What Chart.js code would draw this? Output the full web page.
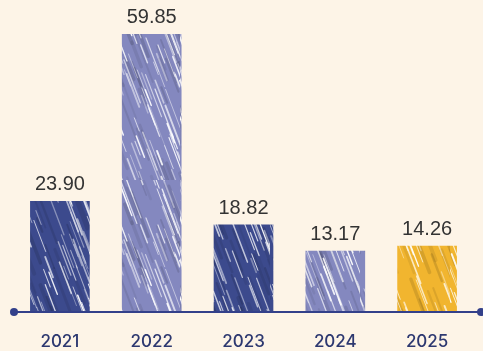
<!DOCTYPE html>
<html>
<head>
<meta charset="utf-8">
<script src="https://cdn.jsdelivr.net/npm/chart.js@4"></script>
<style>
  html, body { margin: 0; padding: 0; background: #fdf4e7; }
  #wrap { width: 483px; height: 351px; }
</style>
</head>
<body>
<div id="wrap"><canvas id="chart"></canvas></div>
<script>
const years = ["2021", "2022", "2023", "2024", "2025"];
const values = [23.90, 59.85, 18.82, 13.17, 14.26];
const barColors = ["#3c4a8d", "#8488bf", "#3c4a8d", "#8488bf", "#f1b52f"];

// tiny seeded generator so the pencil streaks look the same every load
function seeded(seed) {
    return function () {
        seed = (seed * 16807) % 2147483647;
        return (seed - 1) / 2147483646;
    };
}

function streaks(g, rnd, count, color, alphaMin, alphaSpan, widthMin, widthSpan) {
    g.strokeStyle = color;
    g.lineCap = "round";
    for (let i = 0; i < count; i++) {
        const x = rnd() * 140 - 40;
        const y = rnd() * 220 - 40;
        const len = 12 + rnd() * 38;
        g.globalAlpha = alphaMin + rnd() * alphaSpan;
        g.lineWidth = widthMin + rnd() * widthSpan;
        g.beginPath();
        g.moveTo(x, y);
        g.lineTo(x + len * 0.38, y + len);
        g.stroke();
    }
}

// crayon-like fill: flat colour, faint darker strokes, many white diagonal streaks
function crayonPattern(color, seed) {
    const c = document.createElement("canvas");
    c.width = 90;
    c.height = 180;
    const g = c.getContext("2d");
    const rnd = seeded(seed);
    g.fillStyle = color;
    g.fillRect(0, 0, c.width, c.height);
    streaks(g, rnd, 80, "#000000", 0.05, 0.08, 1.5, 2.5);
    streaks(g, rnd, 140, "#ffffff", 0.35, 0.6, 0.6, 1.3);
    g.globalAlpha = 1;
    return g.createPattern(c, "repeat");
}

const fills = barColors.map((col, i) => crayonPattern(col, 97 + i * 31));

// value above each bar
const valueLabels = {
    id: "valueLabels",
    afterDatasetsDraw(chart) {
        const ctx = chart.ctx;
        const meta = chart.getDatasetMeta(0);
        ctx.save();
        ctx.font = "20px 'Liberation Sans', Arial, sans-serif";
        ctx.fillStyle = "#333333";
        ctx.textAlign = "center";
        ctx.textBaseline = "bottom";
        meta.data.forEach((bar, i) => {
            ctx.fillText(values[i].toFixed(2), bar.x, bar.y - 6);
        });
        ctx.restore();
    }
};

// baseline with round dots at both ends
const baseLine = {
    id: "baseLine",
    afterDatasetsDraw(chart) {
        const ctx = chart.ctx;
        const y = chart.chartArea.bottom;
        const x0 = chart.chartArea.left;
        const x1 = chart.width - 2;
        ctx.save();
        ctx.strokeStyle = "#33408a";
        ctx.fillStyle = "#33408a";
        ctx.lineWidth = 2;
        ctx.beginPath();
        ctx.moveTo(x0, y);
        ctx.lineTo(x1, y);
        ctx.stroke();
        [x0, x1].forEach(x => {
            ctx.beginPath();
            ctx.arc(x, y, 4, 0, Math.PI * 2);
            ctx.fill();
        });
        ctx.restore();
    }
};

new Chart(document.getElementById("chart"), {
    type: "bar",
    data: {
        labels: years,
        datasets: [{
            data: values,
            backgroundColor: fills,
            borderWidth: 0,
            categoryPercentage: 1,
            barPercentage: 0.65
        }]
    },
    options: {
        responsive: true,
        maintainAspectRatio: false,
        animation: false,
        layout: { padding: { left: 14, right: 10, top: 10, bottom: 0 } },
        plugins: {
            legend: { display: false },
            tooltip: { enabled: false }
        },
        scales: {
            x: {
                grid: { display: false },
                border: { display: false },
                afterFit: axis => { axis.height = 39; },
                ticks: {
                    padding: 12,
                    color: "#2d3870",
                    font: { family: "Inter", size: 17, weight: "500" }
                }
            },
            y: {
                display: false,
                min: 0,
                max: 65
            }
        }
    },
    plugins: [valueLabels, baseLine]
});
</script>
</body>
</html>
